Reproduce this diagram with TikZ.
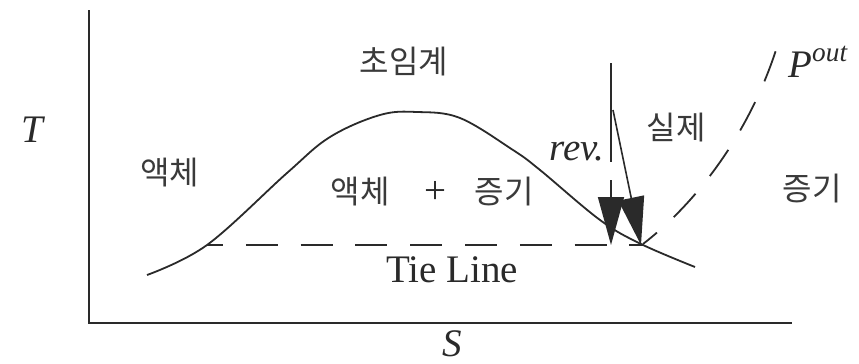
\documentclass[tikz,border=0pt]{standalone}
\usepackage{fontspec}
\setmainfont{Liberation Serif}
\newfontfamily\krfont{Noto Sans CJK KR}
\usetikzlibrary{arrows.meta}
\definecolor{txtgray}{HTML}{3A3A3A}
\definecolor{linegray}{HTML}{2A2A2A}
\begin{document}
\begin{tikzpicture}[x=0.5pt,y=-0.5pt,
  kr/.style={font=\krfont\fontsize{16}{18}\selectfont, text=txtgray, inner sep=0pt},
  lbl/.style={font=\fontsize{19.5}{22}\selectfont, text=linegray, inner sep=0pt},
  ilbl/.style={lbl, font=\fontsize{19.5}{22}\selectfont\itshape},
  axisline/.style={line width=1.3pt, draw=linegray},
  crv/.style={line width=0.9pt, draw=linegray},
  dsh/.style={crv, dash pattern=on 16pt off 11.4pt},
  bigarrow/.style={-{Triangle[length=24pt,width=13pt]}, line width=0.8pt, draw=linegray, fill=linegray}
]
\useasboundingbox (0,0) rectangle (859,364);
% axes
\coordinate (otop) at (89,10);
\coordinate (orig) at (89,323);
\coordinate (xend) at (792,323);
\draw[axisline] (otop) -- (orig) -- (xend);
% saturation dome
\draw[crv] plot[smooth, tension=0.6] coordinates {(147,275) (207,245) (287,173) (330,137) (380,115) (417,112) (460,118) (513,150) (540,170) (600,220) (641,244) (695,267)};
% tie line
\coordinate (tieL) at (207,245);
\coordinate (tieR) at (643,245);
\draw[dsh, dash phase=8pt] (tieL) -- (tieR);
% reversible path
\coordinate (revTop) at (611,63);
\coordinate (revBreakA) at (611,162);
\coordinate (revBreakB) at (611,180);
\coordinate (revEnd) at (611,245);
\draw[crv] (revTop) -- (revBreakA);
\draw[bigarrow] (revBreakB) -- (revEnd);
% actual path
\coordinate (actTop) at (613,110);
\coordinate (actEnd) at (641,245);
\draw[bigarrow] (actTop) -- (actEnd);
% outlet isobar
\coordinate (pStart) at (643,244);
\coordinate (pEnd) at (776,50);
\draw[dsh, dash phase=7pt] (pStart) .. controls (700,200) and (750,130) .. (pEnd);
% labels
\node[kr] (super) at (404,62) {초임계};
\node[kr] (liq) at (170,173) {액체};
\node[kr] (liq2) at (360,192) {액체};
\node[lbl] (plus) at (435,192) {+};
\node[kr] (vap2) at (504,192) {증기};
\node[kr] (real) at (676,128) {실제};
\node[kr] (vap) at (812,189) {증기};
\node[lbl, anchor=base] (tie) at (452,282) {Tie Line};
\node[ilbl, anchor=base west] (rev) at (549,160) {rev.};
\node[ilbl, anchor=base west] (pout) at (788,77) {P\textsuperscript{out}};
\node[ilbl, anchor=base] (Tlab) at (32,142) {T};
\node[ilbl, anchor=base] (Slab) at (452,356) {S};
\end{tikzpicture}
\end{document}
